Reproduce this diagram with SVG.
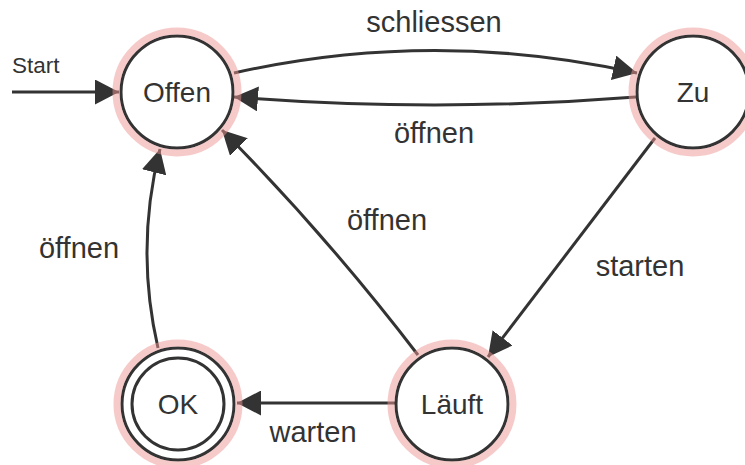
<svg xmlns="http://www.w3.org/2000/svg" width="745" height="465" viewBox="0 0 745 465">
  <defs>
    <style>
      .edge { fill: none; stroke: #333; stroke-width: 3; marker-end: url(#arrow); }
      .ring { fill: #fff; stroke: #333; stroke-width: 3; }
      .inner { fill: none; stroke: #333; stroke-width: 3; }
      .halo { fill: none; stroke: rgb(240,150,150); stroke-opacity: 0.5; stroke-width: 7; }
      text { font-family: "Liberation Sans", Arial, Helvetica, sans-serif; fill: #333; }
      .state { font-size: 28px; text-anchor: middle; }
      .label { font-size: 29px; text-anchor: middle; }
      .start { font-size: 22.5px; }
    </style>
    <marker id="arrow" markerUnits="userSpaceOnUse" markerWidth="24" markerHeight="25" viewBox="0 0 24 25" refX="24" refY="12.5" orient="auto">
      <path d="M0,0 L24,12.5 L0,25 Z" fill="#333"/>
    </marker>
  </defs>

  <rect width="745" height="465" fill="#fff"/>

  <!-- transitions -->
  <g id="connectors">
    <path class="edge" d="M12,92 L119,92"/>
    <path class="edge" d="M234,73 Q434,28 637,73"/>
    <path class="edge" d="M636,97 Q434,113 234,97"/>
    <path class="edge" d="M418,355 Q327,236 222,130"/>
    <path class="edge" d="M655,138 L488,357"/>
    <path class="edge" d="M158,348 Q135,248 160,149"/>
    <path class="edge" d="M396,403 L237,403"/>
  </g>

  <!-- transition labels -->
  <g id="labels">
    <text class="start" x="12" y="73">Start</text>
    <text class="label" x="434" y="32">schliessen</text>
    <text class="label" x="434" y="143">öffnen</text>
    <text class="label" x="387" y="230">öffnen</text>
    <text class="label" x="640" y="276">starten</text>
    <text class="label" x="79" y="258">öffnen</text>
    <text class="label" x="313" y="442">warten</text>
  </g>

  <!-- states -->
  <g id="state-offen">
    <circle class="ring" cx="177" cy="92" r="56"/>
    <circle class="halo" cx="177" cy="92" r="61"/>
    <text class="state" x="177" y="102">Offen</text>
  </g>
  <g id="state-zu">
    <circle class="ring" cx="693" cy="92" r="56"/>
    <circle class="halo" cx="693" cy="92" r="61"/>
    <text class="state" x="693" y="102">Zu</text>
  </g>
  <g id="state-ok">
    <circle class="ring" cx="178" cy="404" r="56"/>
    <circle class="inner" cx="178" cy="404" r="46"/>
    <circle class="halo" cx="178" cy="404" r="61"/>
    <text class="state" x="178" y="414">OK</text>
  </g>
  <g id="state-laeuft">
    <circle class="ring" cx="452" cy="404" r="56"/>
    <circle class="halo" cx="452" cy="404" r="61"/>
    <text class="state" x="452" y="414">Läuft</text>
  </g>
</svg>
